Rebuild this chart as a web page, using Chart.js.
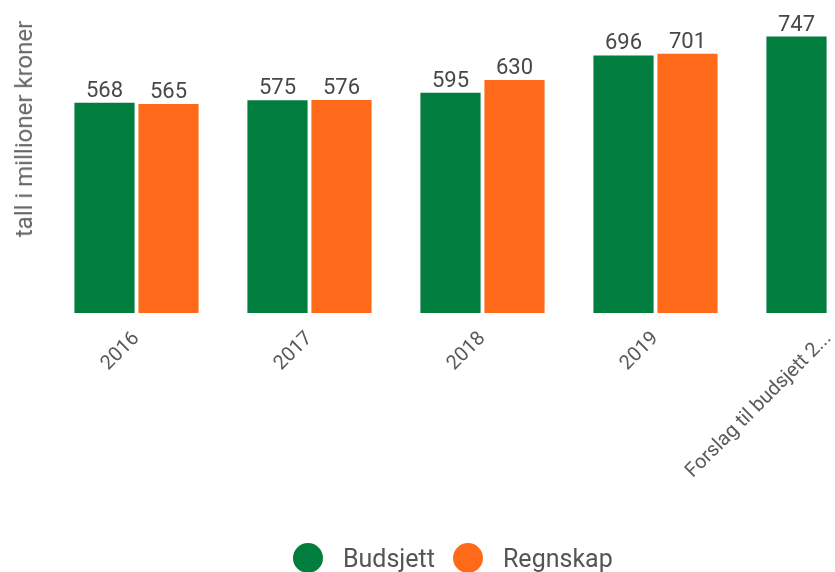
<!DOCTYPE html>
<html>
<head>
<meta charset="utf-8">
<script src="https://cdn.jsdelivr.net/npm/chart.js@4/dist/chart.umd.min.js"></script>
<style>
  html, body { margin: 0; padding: 0; background: #fff; }
  #wrap { position: relative; width: 835px; height: 572px; overflow: hidden; font-family: Roboto, sans-serif; }
  #chart { position: absolute; left: 0; top: 0; }
  #ytitle { position: absolute; left: 24px; top: 129px; transform: translate(-50%, -50%) rotate(-90deg);
            white-space: nowrap; font-size: 24px; color: #666; }
  #legend { position: absolute; left: 293px; top: 543px; display: flex; align-items: center; }
  .item { display: flex; align-items: center; margin-right: 18px; font-size: 25px; color: #555; }
  .dot { width: 30px; height: 30px; border-radius: 50%; margin-right: 20px; }
</style>
</head>
<body>
<div id="wrap">
  <canvas id="chart" width="915" height="572"></canvas>
  <div id="ytitle">tall i millioner kroner</div>
  <div id="legend"></div>
</div>
<script>
const ar = ['2016', '2017', '2018', '2019', 'Forslag til budsjett 2...'];
const budsjett = [568, 575, 595, 696, 747];
const regnskap = [565, 576, 630, 701, null];
const serier = ['Budsjett', 'Regnskap'];
const farger = ['#017d3e', '#ff6a1a'];

// Tall over søylene
const verdiEtiketter = {
  id: 'verdiEtiketter',
  afterDatasetsDraw(chart) {
    const ctx = chart.ctx;
    ctx.save();
    ctx.font = '22px Roboto';
    ctx.fillStyle = '#484848';
    ctx.textAlign = 'center';
    ctx.textBaseline = 'alphabetic';
    chart.data.datasets.forEach((ds, i) => {
      chart.getDatasetMeta(i).data.forEach((bar, j) => {
        if (ds.data[j] == null) return;
        ctx.fillText(ds.data[j], bar.x, bar.y - 6);
      });
    });
    ctx.restore();
  }
};

new Chart(document.getElementById('chart'), {
  type: 'bar',
  data: {
    labels: ar,
    datasets: [
      { label: serier[0], data: budsjett, backgroundColor: farger[0] },
      { label: serier[1], data: regnskap, backgroundColor: farger[1] }
    ]
  },
  options: {
    responsive: false,
    animation: false,
    layout: { padding: { left: 50, top: 17, right: 0, bottom: 0 } },
    datasets: { bar: { categoryPercentage: 0.74, barPercentage: 0.94 } },
    scales: {
      x: {
        grid: { display: false },
        border: { display: false },
        ticks: { maxRotation: 45, minRotation: 45, autoSkip: false, padding: 6, color: '#5a5a5a', font: { family: 'Roboto', size: 20 } },
        afterFit(scale) { scale.height = 259; }
      },
      y: { display: false, min: 0, max: 800 }
    },
    plugins: {
      legend: { display: false },
      tooltip: { enabled: false }
    }
  },
  plugins: [verdiEtiketter]
});

// Forklaring
const legend = document.getElementById('legend');
serier.forEach((navn, i) => {
  const el = document.createElement('div');
  el.className = 'item';
  el.innerHTML = '<span class="dot" style="background:' + farger[i] + '"></span>' + navn;
  legend.appendChild(el);
});
</script>
</body>
</html>
